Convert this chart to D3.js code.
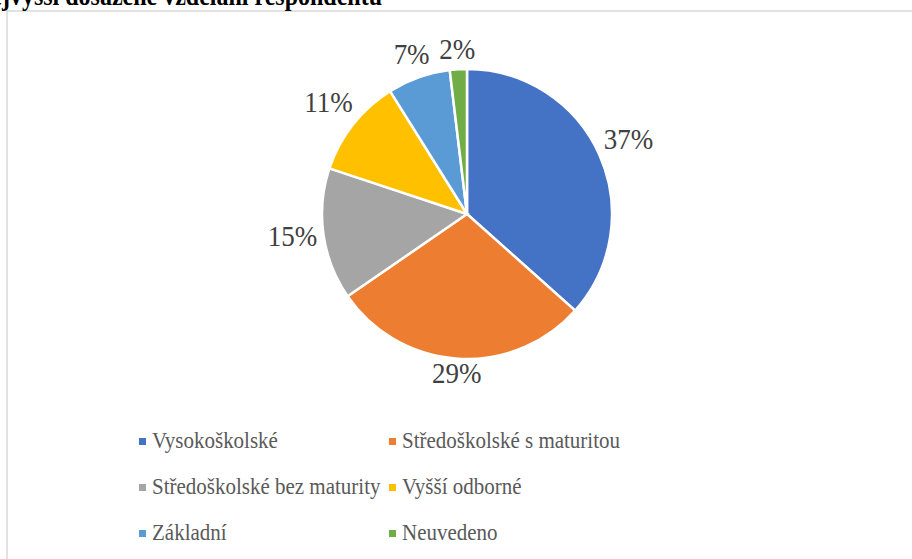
<!DOCTYPE html>
<html><head><meta charset="utf-8">
<script src="https://cdn.jsdelivr.net/npm/d3@7"></script>
<style>html,body{margin:0;padding:0;background:#fff;overflow:hidden}
text{font-family:"Liberation Serif","Times New Roman",Times,serif}</style>
</head><body>
<svg id="c" width="912" height="559"></svg>
<script>
const categories = ["Vysokoškolské","Středoškolské s maturitou","Středoškolské bez maturity","Vyšší odborné","Základní","Neuvedeno"];
const values = [36.6, 28.8, 14.7, 11.0, 7.0, 1.9];
const labels = ["37%","29%","15%","11%","7%","2%"];
const colors = ["#4472C4","#ED7D31","#A5A5A5","#FFC000","#5B9BD5","#70AD47"];
const title = "Nejvyšší dosažené vzdělání respondentů";

const svg = d3.select("#c");
const SY = 1.13;
svg.append("rect").attr("x",7).attr("y",11).attr("width",920).attr("height",560)
  .attr("fill","none").attr("stroke","#d9d9d9").attr("stroke-width",1.5);
svg.append("g").attr("transform","translate(382,5) scale(1,"+SY+")")
  .append("text").attr("text-anchor","end")
  .attr("font-weight","bold").attr("font-size",24).attr("fill","#000").text(title);

const cx = 467, cy = 214, r = 145;
const pie = d3.pie().sort(null).value(d=>d);
const arcs = pie(values);
const arc = d3.arc().innerRadius(0).outerRadius(r);
const g = svg.append("g").attr("transform",`translate(${cx},${cy})`);
g.selectAll("path").data(arcs).enter().append("path")
  .attr("d",arc).attr("fill",(d,i)=>colors[i]).attr("stroke","#fff").attr("stroke-width",2.5);

const fs = 27;
g.selectAll("g.lbl").data(arcs).enter().append("g").attr("class","lbl")
  .each(function(d,i){
    const a = (d.startAngle+d.endAngle)/2;
    const s = Math.sin(a), c = Math.cos(a);
    const w = labels[i].length===3 ? 48 : 36, h = 20;
    const dist = 151 + (w/2)*Math.abs(s) + (h/2)*Math.abs(c);
    const x = dist*s, y = -dist*c;
    d3.select(this).attr("transform",`translate(${x},${y + h/2 - 3}) scale(1,${SY})`)
      .append("text").attr("text-anchor","middle")
      .attr("font-size",fs).attr("fill","#404040").text(labels[i]);
  });

const colX = [139, 389], rowY = [448, 494, 540];
const lg = svg.append("g");
categories.forEach((cat,i)=>{
  const x = colX[i%2], y = rowY[Math.floor(i/2)];
  lg.append("rect").attr("x",x).attr("y",y-10).attr("width",7).attr("height",7).attr("fill",colors[i]);
  lg.append("g").attr("transform",`translate(${x+13},${y}) scale(1,${SY})`)
    .append("text").attr("font-size",21)
    .attr("fill","#595959").text(cat);
});
</script>
</body></html>
